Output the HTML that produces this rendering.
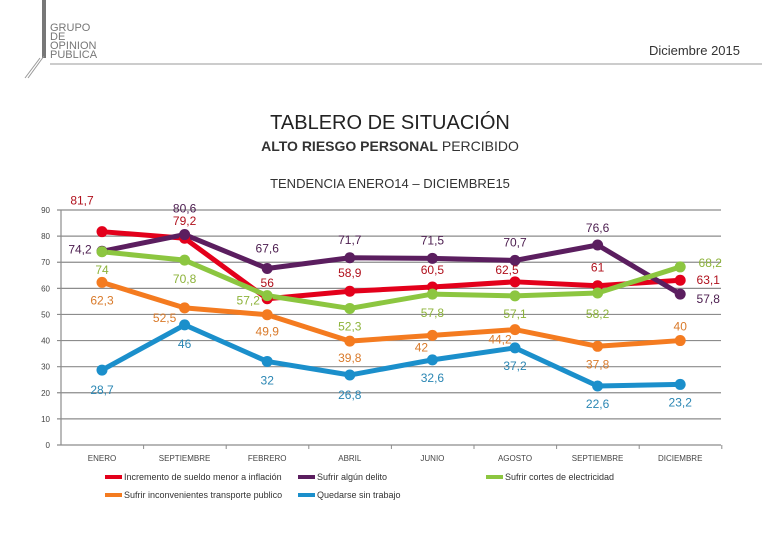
<!DOCTYPE html>
<html><head><meta charset="utf-8"><style>
body{margin:0;background:#fff;font-family:"Liberation Sans",sans-serif}
#wrap{position:relative;width:780px;height:540px;overflow:hidden}
</style></head><body>
<div id="wrap">
<svg id="chart" width="780" height="540">
  <g>
    <rect x="42" y="0" width="4" height="58" fill="#777"/>
    <line x1="44" y1="56" x2="28" y2="78" stroke="#999" stroke-width="1"/>
    <line x1="40" y1="58" x2="25" y2="78" stroke="#999" stroke-width="1"/>
    <text x="50" y="31" font-size="11" fill="#777">GRUPO</text>
    <text x="50" y="40" font-size="11" fill="#777">DE</text>
    <text x="50" y="49" font-size="11" fill="#777">OPINION</text>
    <text x="50" y="58" font-size="11" fill="#777">PUBLICA</text>
  </g>
  <line x1="50" y1="64" x2="762" y2="64" stroke="#999" stroke-width="1"/>
  <text x="740" y="55" font-size="13" fill="#333" text-anchor="end">Diciembre 2015</text>
  <text x="390" y="129" font-size="20" fill="#222" text-anchor="middle">TABLERO DE SITUACIÓN</text>
  <text x="390" y="151" font-size="14" fill="#333" text-anchor="middle"><tspan font-weight="bold">ALTO RIESGO PERSONAL</tspan> PERCIBIDO</text>
  <text x="390" y="188" font-size="13" fill="#333" text-anchor="middle">TENDENCIA ENERO14 – DICIEMBRE15</text>
  <g id="grid"></g><g id="series"></g><g id="labels"></g><g id="legend"></g>
</svg>
</div>
<script>
const categories=["ENERO","SEPTIEMBRE","FEBRERO","ABRIL","JUNIO","AGOSTO","SEPTIEMBRE","DICIEMBRE"];
const yTicks=[0,10,20,30,40,50,60,70,80,90];
const seriesNames=["Incremento de sueldo menor a inflación","Sufrir algún delito","Sufrir cortes de electricidad","Sufrir inconvenientes transporte publico","Quedarse sin trabajo"];
const incremento=[81.7,79.2,56,58.9,60.5,62.5,61,63.1];
const delito=[74.2,80.6,67.6,71.7,71.5,70.7,76.6,57.8];
const cortes=[74,70.8,57.2,52.3,57.8,57.1,58.2,68.2];
const transporte=[62.3,52.5,49.9,39.8,42,44.2,37.8,40];
const trabajo=[28.7,46,32,26.8,32.6,37.2,22.6,23.2];
const seriesData=[incremento,delito,cortes,transporte,trabajo];
const lineColors=["#e3001b","#5b1e5f","#8cc640","#f47b20","#1b8fcb"];
const textColors=["#b0101c","#4b1c4e","#8db33a","#d97a2a","#2a86b3"];
const offX=[[-20,0,0,0,0,-8,0,28],[-22,0,0,0,0,0,0,28],[0,0,-19,0,0,0,0,30],[0,-20,0,0,-11,-15,0,0],[0,0,0,0,0,0,0,0]];
const offY=[[-27,-13,-12,-14,-13,-8,-14,4],[2,-22,-16,-14,-14,-14,-13,9],[22,23,9,22,23,22,25,0],[22,14,21,21,16,14,22,-10],[24,23,23,24,22,22,22,22]];
const ns="http://www.w3.org/2000/svg";
const X0=102,DX=82.6,Y0=445,KY=2.611,XL=61,XR=721;
const xs=i=>X0+i*DX, ys=v=>Y0-v*KY;
function mk(t,a,p){const e=document.createElementNS(ns,t);for(const k in a)e.setAttribute(k,a[k]);p.appendChild(e);return e;}
const grid=document.getElementById('grid');
yTicks.forEach(v=>{
 const l=mk('line',{x1:XL-4,x2:XR,y1:ys(v),y2:ys(v),stroke:'#8c8c8c','stroke-width':1.2},grid);
 
 
 const t=mk('text',{x:50,y:ys(v)+3,'font-size':8,fill:'#444','text-anchor':'end'},grid);
 t.textContent=v;
 
 
});
mk('line',{x1:XL,x2:XL,y1:ys(90),y2:Y0,stroke:'#8c8c8c','stroke-width':1.2},grid);
categories.forEach((c,i)=>{
 const t=mk('text',{x:xs(i),y:461,'font-size':8,fill:'#444','text-anchor':'middle'},grid);
 t.textContent=c;
 
 
 mk('line',{x1:XL+(i+1)*DX,x2:XL+(i+1)*DX,y1:Y0,y2:Y0+4,stroke:'#8c8c8c'},grid);
});
const sg=document.getElementById('series'),lg=document.getElementById('labels');
seriesData.forEach((d,s)=>{
 const p=mk('polyline',{points:d.map((v,i)=>xs(i)+','+ys(v)).join(' '),fill:'none',stroke:lineColors[s],'stroke-width':5,'stroke-linejoin':'round'},sg);
 
 
});
seriesData.forEach((d,s)=>{
 d.forEach((v,i)=>{
  const c=mk('circle',{cx:xs(i),cy:ys(v),r:5.5,fill:lineColors[s]},sg);
  
  
  const t=mk('text',{x:xs(i)+offX[s][i],y:ys(v)+offY[s][i],'font-size':12,fill:textColors[s],'text-anchor':'middle'},lg);
  t.textContent=String(v).replace('.',',');
  
  
 });
});
const leg=document.getElementById('legend');
const legPos=[[105,477],[298,477],[486,477],[105,495],[298,495]];
seriesNames.forEach((n,s)=>{
 const [x,y]=legPos[s];
 const g=mk('g',{},leg);
 
 
 mk('line',{x1:x,x2:x+17,y1:y,y2:y,stroke:lineColors[s],'stroke-width':4},g);
 const t=mk('text',{x:x+19,y:y+3,'font-size':9,fill:'#333'},g);
 t.textContent=n;
});
</script>
</body></html>
